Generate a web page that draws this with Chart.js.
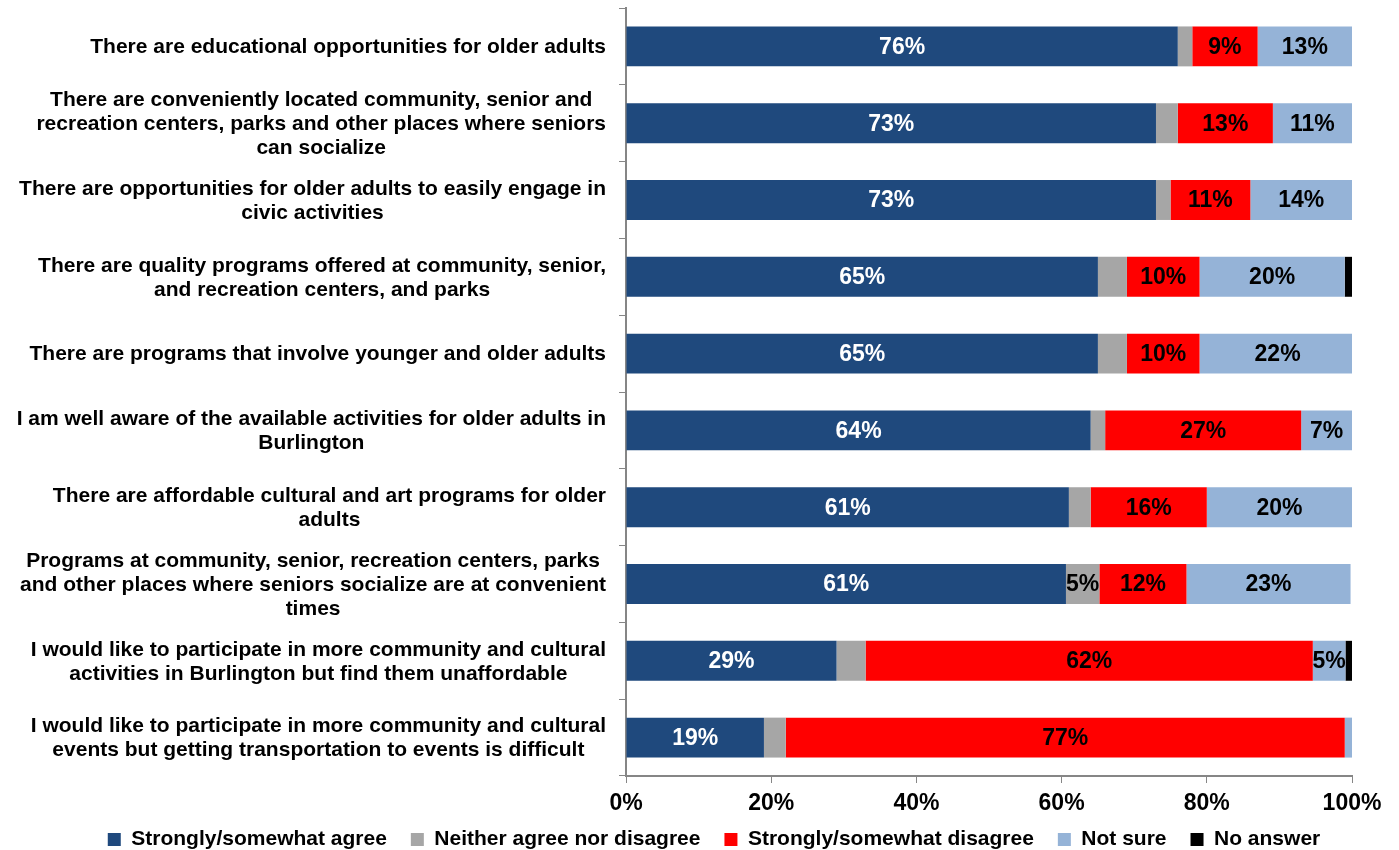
<!DOCTYPE html>
<html>
<head>
<meta charset="utf-8">
<script src="https://cdn.jsdelivr.net/npm/chart.js@4/dist/chart.umd.min.js"></script>
<style>
  html, body { margin: 0; padding: 0; background: #fff; }
  #wrap { width: 1399px; height: 850px; }
</style>
</head>
<body>
<div id="wrap"><canvas id="c"></canvas></div>
<script>
const categories = [
    ["There are educational opportunities for older adults"],
    ["There are conveniently located community, senior and", "recreation centers, parks and other places where seniors", "can socialize"],
    ["There are opportunities for older adults to easily engage in", "civic activities"],
    ["There are quality programs offered at community, senior,", "and recreation centers, and parks"],
    ["There are programs that involve younger and older adults"],
    ["I am well aware of the available activities for older adults in", "Burlington"],
    ["There are affordable cultural and art programs for older", "adults"],
    ["Programs at community, senior, recreation centers, parks", "and other places where seniors socialize are at convenient", "times"],
    ["I would like to participate in more community and cultural", "activities in Burlington but find them unaffordable"],
    ["I would like to participate in more community and cultural", "events but getting transportation to events is difficult"]
];

const seriesNames = ["Strongly/somewhat agree", "Neither agree nor disagree", "Strongly/somewhat disagree", "Not sure", "No answer"];
const seriesColors = ["#1F497D", "#A6A6A6", "#FF0000", "#95B3D7", "#000000"];
const labelColors = ["#FFFFFF", "#000000", "#000000", "#000000", "#000000"];

const agree     = [76, 73, 73, 65, 65, 64, 61, 60.6, 29, 19];
const neither   = [2, 3, 2, 4, 4, 2, 3, 4.6, 4, 3];
const disagree  = [9, 13.1, 11, 10, 10, 27, 16, 12, 61.6, 77];
const notSure   = [13, 10.9, 14, 20, 21.5, 7, 20, 22.6, 4.5, 1];
const noAnswer  = [0, 0, 0, 1, 0, 0, 0, 0, 0.9, 0];

const xTicks = [0, 20, 40, 60, 80, 100];

const seriesData = [agree, neither, disagree, notSure, noAnswer];
const FONT = "'Liberation Sans', Arial, sans-serif";

const axisLabels = {
    id: "axisLabels",
    afterDraw(chart) {
        const { ctx, chartArea, scales: { x, y } } = chart;
        ctx.save();
        ctx.fillStyle = "#000";
        ctx.textAlign = "center";
        ctx.textBaseline = "middle";

        // category labels, lines centred on each other, block right-aligned
        ctx.font = "bold 21px " + FONT;
        const right = 606;
        const lh = 24;
        categories.forEach((lines, i) => {
            const cy = y.getPixelForValue(i);
            const w = Math.max(...lines.map(l => ctx.measureText(l).width));
            const cx = right - w / 2;
            const y0 = cy - (lines.length - 1) * lh / 2;
            lines.forEach((l, k) => ctx.fillText(l, cx, y0 + k * lh + 1));
        });

        // x tick labels
        ctx.font = "bold 23px " + FONT;
        xTicks.forEach(v => {
            ctx.fillText(v + "%", x.getPixelForValue(v), chartArea.bottom + 28);
        });
        ctx.restore();
    }
};

const valueLabels = {
    id: "valueLabels",
    afterDatasetsDraw(chart) {
        const { ctx } = chart;
        ctx.save();
        ctx.font = "bold 23px " + FONT;
        ctx.textAlign = "center";
        ctx.textBaseline = "middle";
        chart.data.datasets.forEach((ds, di) => {
            const meta = chart.getDatasetMeta(di);
            meta.data.forEach((bar, i) => {
                const v = ds.data[i];
                if (v < 4.5) return;
                const { x, base, y } = bar.getProps(["x", "base", "y"], true);
                ctx.fillStyle = labelColors[di];
                ctx.fillText(Math.round(v) + "%", (x + base) / 2, y + 1);
            });
        });
        ctx.restore();
    }
};

new Chart(document.getElementById("c"), {
    type: "bar",
    data: {
        labels: categories.map(l => l.join(" ")),
        datasets: seriesNames.map((name, i) => ({
            label: name,
            data: seriesData[i],
            backgroundColor: seriesColors[i],
            borderWidth: 0,
            barPercentage: 0.52,
            categoryPercentage: 1
        }))
    },
    options: {
        indexAxis: "y",
        responsive: true,
        maintainAspectRatio: false,
        animation: false,
        layout: { padding: { top: 8, right: 47, left: 76, bottom: -10 } },
        scales: {
            x: {
                stacked: true,
                min: 0,
                max: 100,
                afterBuildTicks(scale) {
                    scale.ticks = xTicks.map(v => ({ value: v }));
                },
                afterFit(scale) { scale.height = 29; },
                ticks: { display: false },
                grid: {
                    drawOnChartArea: false,
                    drawTicks: true,
                    tickLength: 7,
                    color: "#868686"
                },
                border: { color: "#868686", width: 2 }
            },
            y: {
                stacked: true,
                afterFit(scale) { scale.width = 550; },
                ticks: { display: false },
                grid: {
                    offset: true,
                    drawOnChartArea: false,
                    drawTicks: true,
                    tickLength: 7,
                    color: "#868686"
                },
                border: { color: "#868686", width: 2 }
            }
        },
        plugins: {
            legend: {
                position: "bottom",
                labels: {
                    color: "#000",
                    font: { family: FONT, size: 21, weight: "bold" },
                    boxWidth: 13,
                    boxHeight: 13,
                    padding: 24
                }
            },
            tooltip: { enabled: false }
        }
    },
    plugins: [axisLabels, valueLabels]
});
</script>
</body>
</html>
